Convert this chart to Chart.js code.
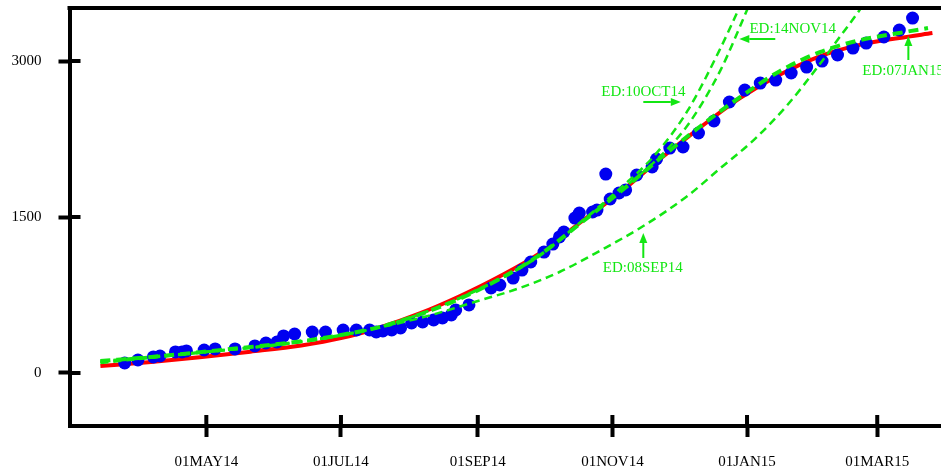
<!DOCTYPE html>
<html>
<head>
<meta charset="utf-8">
<script src="https://cdn.jsdelivr.net/npm/chart.js@4/dist/chart.umd.min.js"></script>
<style>
  html, body { margin: 0; padding: 0; background: #fff; overflow: hidden; }
  #wrap { width: 960px; height: 471px; }
</style>
</head>
<body>
<div id="wrap"><canvas id="fitChart" width="960" height="471"></canvas></div>
<script>
// x values are days counted from 01JAN14
const dayTicks = [120, 181, 243, 304, 365, 424];
const dayTickLabels = ['01MAY14', '01JUL14', '01SEP14', '01NOV14', '01JAN15', '01MAR15'];
const valueTicks = [0, 1500, 3000];

// observed counts (blue dots)
const caseDays = [83, 89, 96, 99, 106, 109, 111, 119, 124, 133, 142, 147, 152, 155, 160, 168, 174, 182, 188, 194,
  197, 200, 204, 208, 213, 218, 223, 227, 231, 233, 239, 249, 253, 259, 263, 267, 273, 277, 280, 282,
  287, 289, 295, 297, 301, 303, 307, 310, 315, 322, 324, 330, 336, 343, 350, 357, 364, 371, 378, 385,
  392, 399, 406, 413, 419, 427, 434, 440];
const caseValues = [96, 125, 154, 163, 202, 202, 212, 221, 231, 231, 260, 288, 298, 356, 375, 394, 394, 413, 413, 413,
  394, 404, 413, 433, 481, 490, 510, 529, 558, 606, 654, 817, 846, 913, 990, 1067, 1163, 1240, 1308, 1356,
  1490, 1538, 1548, 1567, 1913, 1673, 1731, 1760, 1904, 1981, 2058, 2163, 2173, 2308, 2423, 2606, 2721, 2788, 2817, 2885,
  2942, 3000, 3058, 3125, 3173, 3231, 3298, 3413];

// full fit (red)
const fitDays = [72, 95, 117, 140, 163, 181, 199, 217, 235, 253, 271, 289, 308, 326, 344, 362, 380, 398, 416, 434, 449];
const fitValues = [67, 106, 152, 205, 265, 335, 440, 575, 740, 930, 1150, 1440, 1745, 2065, 2365, 2645, 2870, 3045, 3155, 3222, 3269];

// fit with end date 07JAN15 (thick dashed)
const jan15Days = [72, 95, 117, 140, 163, 181, 199, 217, 235, 253, 271, 289, 308, 326, 344, 362, 380, 398, 416, 434, 447];
const jan15Values = [115, 154, 200, 250, 305, 365, 445, 565, 715, 905, 1135, 1430, 1750, 2070, 2375, 2655, 2905, 3085, 3200, 3270, 3317];

// fit with end date 08SEP14
const sep14Days = [72, 117, 163, 199, 222, 240, 262, 280, 299, 318, 338, 353, 368, 383, 398, 406, 416, 419];
const sep14Values = [115, 200, 305, 440, 558, 673, 817, 971, 1183, 1413, 1702, 1971, 2240, 2570, 2971, 3202, 3490, 3587];

// fit with end date 10OCT14
const oct14Days = [72, 117, 163, 199, 235, 271, 289, 308, 323, 338, 353, 361, 364];
const oct14Values = [96, 195, 300, 445, 720, 1125, 1440, 1785, 2090, 2520, 3125, 3490, 3635];

// fit with end date 14NOV14
const nov14Days = [72, 117, 163, 199, 235, 271, 289, 308, 323, 338, 353, 365, 368];
const nov14Values = [106, 195, 300, 445, 725, 1135, 1440, 1760, 2030, 2380, 2913, 3490, 3635];

const green = '#13e613';
const serif = "'Liberation Serif', 'Times New Roman', serif";

const pairs = (xs, ys) => xs.map((x, i) => ({ x: x, y: ys[i] }));

// labels and arrows, in data coordinates
const notes = [
  { text: 'ED:10OCT14', day: 318, value: 2702, align: 'center', arrow: [318, 2606, 335, 2606] },
  { text: 'ED:14NOV14', day: 385.7, value: 3308, align: 'center', arrow: [377.8, 3212, 361.5, 3212] },
  { text: 'ED:07JAN15', day: 417.2, value: 2904, align: 'left', arrow: [438.1, 3010, 438.1, 3240] },
  { text: 'ED:08SEP14', day: 317.8, value: 1010, align: 'center', arrow: [318, 1106, 318, 1346] }
];

// top line and the inner half of each tick mark
const framePlugin = {
  id: 'frame',
  afterDraw(chart) {
    const { ctx, chartArea, scales } = chart;
    ctx.save();
    ctx.strokeStyle = '#000';
    ctx.lineWidth = 4;
    ctx.beginPath();
    ctx.moveTo(chartArea.left - 2, chartArea.top);
    ctx.lineTo(chartArea.right, chartArea.top);
    scales.y.ticks.forEach(t => {
      const p = scales.y.getPixelForValue(t.value);
      ctx.moveTo(chartArea.left, p);
      ctx.lineTo(chartArea.left + 11, p);
    });
    scales.x.ticks.forEach(t => {
      const p = scales.x.getPixelForValue(t.value);
      ctx.moveTo(p, chartArea.bottom);
      ctx.lineTo(p, chartArea.bottom - 11);
    });
    ctx.stroke();
    ctx.restore();
  }
};

const notePlugin = {
  id: 'notes',
  afterDatasetsDraw(chart) {
    const { ctx, scales } = chart;
    ctx.save();
    ctx.fillStyle = green;
    ctx.strokeStyle = green;
    ctx.lineWidth = 2;
    ctx.font = '15px ' + serif;
    ctx.textBaseline = 'middle';
    notes.forEach(n => {
      ctx.textAlign = n.align;
      ctx.fillText(n.text, scales.x.getPixelForValue(n.day), scales.y.getPixelForValue(n.value));
      const x1 = scales.x.getPixelForValue(n.arrow[0]);
      const y1 = scales.y.getPixelForValue(n.arrow[1]);
      const x2 = scales.x.getPixelForValue(n.arrow[2]);
      const y2 = scales.y.getPixelForValue(n.arrow[3]);
      const ang = Math.atan2(y2 - y1, x2 - x1);
      const hl = 10, hw = 4;
      const bx = x2 - hl * Math.cos(ang), by = y2 - hl * Math.sin(ang);
      ctx.beginPath();
      ctx.moveTo(x1, y1);
      ctx.lineTo(bx, by);
      ctx.stroke();
      ctx.beginPath();
      ctx.moveTo(x2, y2);
      ctx.lineTo(bx - hw * Math.sin(ang), by + hw * Math.cos(ang));
      ctx.lineTo(bx + hw * Math.sin(ang), by - hw * Math.cos(ang));
      ctx.closePath();
      ctx.fill();
    });
    ctx.restore();
  }
};

function curve(label, xs, ys, color, width, dash) {
  return {
    label: label,
    data: pairs(xs, ys),
    showLine: true,
    borderColor: color,
    backgroundColor: color,
    borderWidth: width,
    borderDash: dash,
    pointRadius: 0,
    tension: 0.4,
    cubicInterpolationMode: 'monotone',
    fill: false
  };
}

new Chart(document.getElementById('fitChart'), {
  type: 'scatter',
  data: {
    datasets: [
      curve('ED:07JAN15', jan15Days, jan15Values, green, 4, [10, 6]),
      curve('ED:08SEP14', sep14Days, sep14Values, green, 2.5, [8, 5]),
      curve('ED:10OCT14', oct14Days, oct14Values, green, 2.5, [8, 5]),
      curve('ED:14NOV14', nov14Days, nov14Values, green, 2.5, [8, 5]),
      {
        label: 'Cases',
        data: pairs(caseDays, caseValues),
        backgroundColor: '#0000f0',
        borderWidth: 0,
        pointRadius: 6.5,
        showLine: false
      },
      curve('Fit', fitDays, fitValues, '#ff0000', 4, [])
    ]
  },
  options: {
    responsive: false,
    animation: false,
    devicePixelRatio: 1,
    layout: { autoPadding: false, padding: { left: 11.5, top: 8, right: 0, bottom: 0 } },
    plugins: { legend: { display: false }, tooltip: { enabled: false } },
    scales: {
      x: {
        type: 'linear',
        min: 58,
        max: 461.5,
        afterBuildTicks: s => { s.ticks = dayTicks.map(v => ({ value: v })); },
        afterFit: s => { s.height = 45; s.paddingLeft = 0; s.paddingRight = 0; },
        ticks: {
          autoSkip: false,
          maxRotation: 0,
          padding: 16,
          color: '#000',
          font: { family: serif, size: 15 },
          callback: (v) => dayTickLabels[dayTicks.indexOf(v)]
        },
        grid: { drawOnChartArea: false, drawTicks: true, tickLength: 11, tickWidth: 4, tickColor: '#000' },
        border: { display: true, color: '#000', width: 4 }
      },
      y: {
        type: 'linear',
        min: -510,
        max: 3510,
        afterBuildTicks: s => { s.ticks = valueTicks.map(v => ({ value: v })); },
        afterFit: s => { s.width = 58; s.paddingTop = 0; s.paddingBottom = 0; },
        ticks: {
          padding: 17,
          color: '#000',
          font: { family: serif, size: 15 },
          callback: (v) => String(v)
        },
        grid: { drawOnChartArea: false, drawTicks: true, tickLength: 11, tickWidth: 4, tickColor: '#000' },
        border: { display: true, color: '#000', width: 4 }
      }
    }
  },
  plugins: [framePlugin, notePlugin]
});
</script>
</body>
</html>
